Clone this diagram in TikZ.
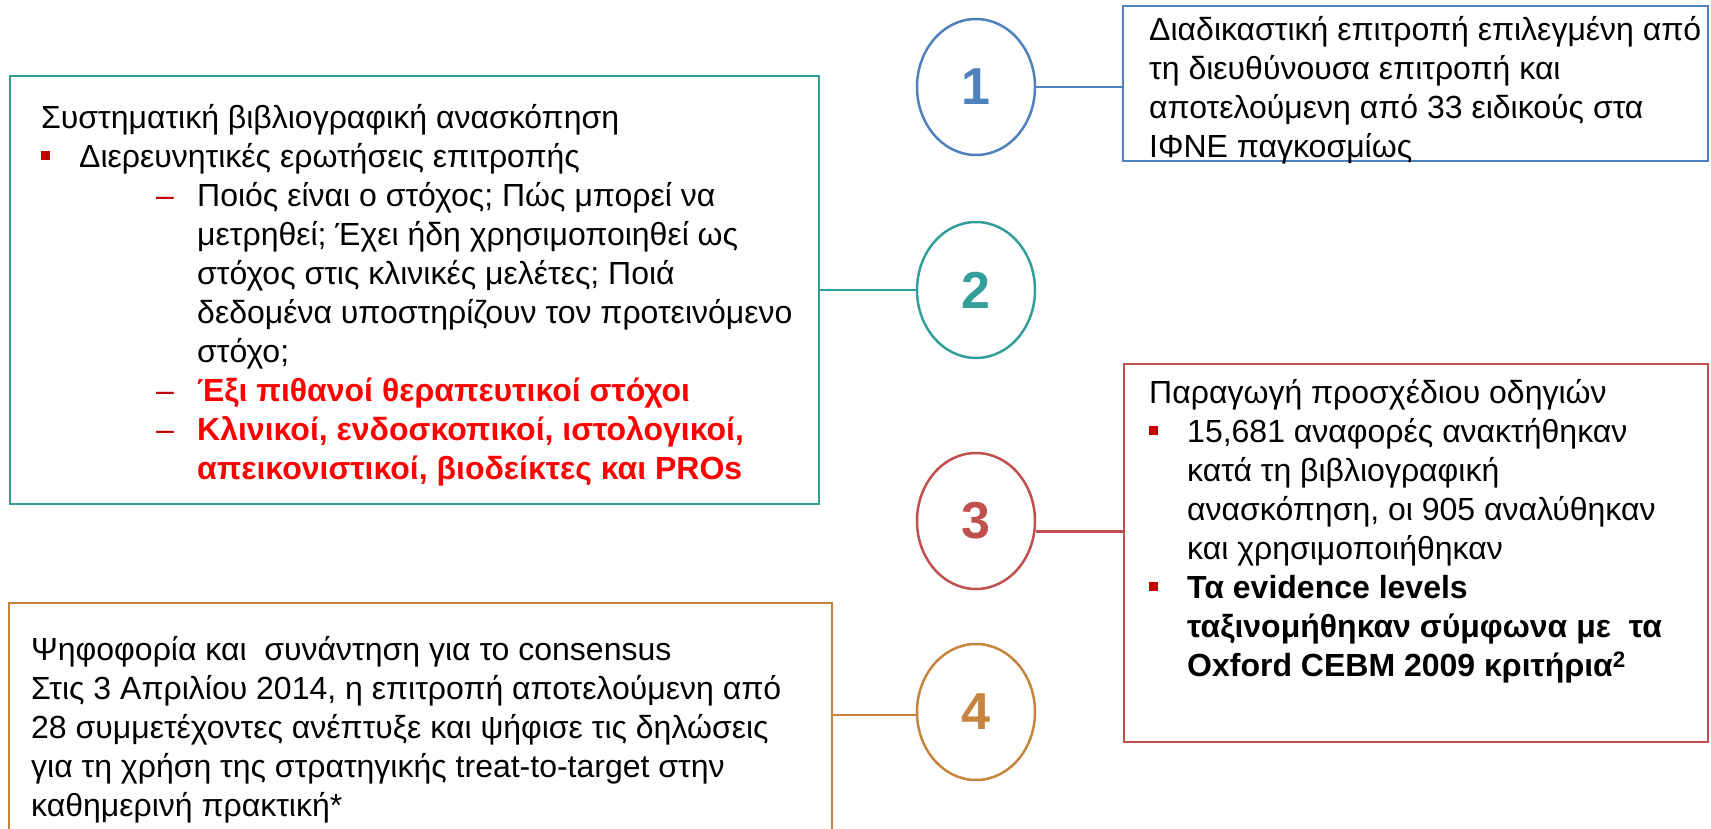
\documentclass[tikz,border=0pt]{standalone}
\usepackage{fontspec}
\setmainfont{Liberation Sans}
\usetikzlibrary{shapes.geometric}
\definecolor{stepblue}{HTML}{4F81BD}
\definecolor{stepteal}{HTML}{349E9A}
\definecolor{stepred}{HTML}{C0504D}
\definecolor{steporange}{HTML}{C7843F}
\definecolor{bulred}{HTML}{C00000}
\definecolor{hired}{HTML}{FF0000}
\tikzstyle{box} = [rectangle, draw, line width=2.5pt, inner sep=0pt]
\tikzstyle{circ} = [ellipse, draw, line width=2.5pt, minimum width=118pt, minimum height=136pt, inner sep=0pt, font=\fontsize{52}{52}\selectfont\bfseries]
\tikzstyle{line} = [line width=2.5pt,-]
\tikzstyle{txt} = [anchor=north west, inner sep=0pt, align=left, text=black, font=\fontsize{32}{39}\selectfont]
\newcommand{\firstline}{\rule{0pt}{30pt}}
\newcommand{\sqitem}{\makebox[38pt][l]{\textcolor{bulred}{\rule[7pt]{9pt}{9pt}}}}
\newcommand{\sqcont}{\hspace*{38pt}}
\newcommand{\dashitem}{\hspace*{115pt}\makebox[41pt][l]{\textcolor{bulred}{–}}}
\newcommand{\dashcont}{\hspace*{156pt}}
\begin{document}
\begin{tikzpicture}[x=1pt, y=-1pt]
\useasboundingbox (0,0) rectangle (1711,829);
% steps
\node (c1) [circ, stepblue] at (976,87) {1};
\node (c2) [circ, stepteal] at (976,290) {2};
\node (c3) [circ, stepred] at (976,521) {3};
\node (c4) [circ, steporange] at (976,712) {4};
% boxes
\node (b1) [box, stepblue, minimum width=585pt, minimum height=155pt] at (1415.5,83.5) {};
\node (b2) [box, stepteal, minimum width=809pt, minimum height=428pt] at (414.5,290) {};
\node (b3) [box, stepred, minimum width=584pt, minimum height=378pt] at (1416,553) {};
\node (b4) [box, steporange, minimum width=823pt, minimum height=267pt] at (420.5,736.5) {};

\node (t1) [txt] at (1149,10) {\firstline Διαδικαστική επιτροπή επιλεγμένη από\\
τη διευθύνουσα επιτροπή και\\
αποτελούμενη από 33 ειδικούς στα\\
ΙΦΝΕ παγκοσμίως};
\node (t2) [txt] at (41,98) {\firstline Συστηματική βιβλιογραφική ανασκόπηση\\
\sqitem Διερευνητικές ερωτήσεις επιτροπής\\
\dashitem Ποιός είναι ο στόχος; Πώς μπορεί να\\
\dashcont μετρηθεί; Έχει ήδη χρησιμοποιηθεί ως\\
\dashcont στόχος στις κλινικές μελέτες; Ποιά\\
\dashcont δεδομένα υποστηρίζουν τον προτεινόμενο\\
\dashcont στόχο;\\
\dashitem \textcolor{hired}{\bfseries Έξι πιθανοί θεραπευτικοί στόχοι}\\
\dashitem \textcolor{hired}{\bfseries Κλινικοί, ενδοσκοπικοί, ιστολογικοί,}\\
\dashcont \textcolor{hired}{\bfseries απεικονιστικοί, βιοδείκτες και PROs}};
\node (t3) [txt] at (1149,373) {\firstline Παραγωγή προσχέδιου οδηγιών\\
\sqitem 15,681 αναφορές ανακτήθηκαν\\
\sqcont κατά τη βιβλιογραφική\\
\sqcont ανασκόπηση, οι 905 αναλύθηκαν\\
\sqcont και χρησιμοποιήθηκαν\\
\sqitem \textbf{Τα evidence levels}\\
\sqcont \textbf{ταξινομήθηκαν σύμφωνα με\ \ τα}\\
\sqcont \textbf{Oxford CEBM 2009 κριτήρια\textsuperscript{2}}};
\node (t4) [txt] at (31,630) {\firstline Ψηφοφορία και\ \ συνάντηση για το consensus\\
Στις 3 Απριλίου 2014, η επιτροπή αποτελούμενη από\\
28 συμμετέχοντες ανέπτυξε και ψήφισε τις δηλώσεις\\
για τη χρήση της στρατηγικής treat-to-target στην\\
καθημερινή πρακτική*};

\draw [line, stepblue] (c1.east) -- (c1.east -| b1.west);
\draw [line, stepteal] (b2.east |- c2.west) -- (c2.west);
\draw [line, stepred] (c3.-10) -- (c3.-10 -| b3.west);
\draw [line, steporange] (c4.183) -- (c4.183 -| b4.east);
\end{tikzpicture}
\end{document}
